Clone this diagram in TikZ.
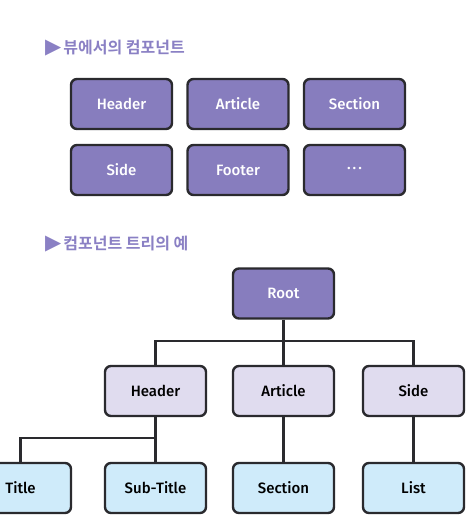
\documentclass[tikz,border=0pt]{standalone}
\usepackage{fontspec}
\usepackage{xcolor}
\setmainfont{Fira Sans}[UprightFont={* Medium}]
\newfontfamily\krfont{Noto Sans CJK KR}[BoldFont={* Bold}]
\newfontfamily\symfont{DejaVu Sans}
\usetikzlibrary{positioning, arrows.meta}

\definecolor{compdark}{HTML}{877DBE}
\definecolor{complight}{HTML}{E0DCEF}
\definecolor{compleaf}{HTML}{CFEBFA}
\definecolor{compline}{HTML}{2A2A2E}
\definecolor{headtext}{HTML}{8A80C4}

\begin{document}
\begin{tikzpicture}[
  x=1pt, y=-1pt,
  every node/.style={font=\fontsize{15}{18}\selectfont},
  box/.style={rectangle, rounded corners=6pt, draw=compline, line width=2.4pt,
              minimum width=101pt, minimum height=50pt, inner sep=2pt},
  darkbox/.style={box, fill=compdark, text=white},
  midbox/.style={box, fill=complight, text=black},
  leafbox/.style={box, fill=compleaf, text=black},
  heading/.style={anchor=west, text=headtext, inner sep=0pt,
                  font=\krfont\bfseries\fontsize{16}{18}\selectfont},
  link/.style={draw=compline, line width=2.8pt}
]
\clip (0,0) rectangle (471,524);
\useasboundingbox (0,0) rectangle (471,524);
% ── Components in the view ─────────────────────
\node[heading] (h1) at (45,48) {{\symfont\fontsize{21}{21}\selectfont ▶}\kern2pt 뷰에서의 컴포넌트};
\node[darkbox] (vheader)  at (121.5,104) {Header};
\node[darkbox] (varticle) at (238,104)   {Article};
\node[darkbox] (vsection) at (354.5,104) {Section};
\node[darkbox] (vside)    at (121.5,170) {Side};
\node[darkbox] (vfooter)  at (238,170)   {Footer};
\node[darkbox] (vmore)    at (354.5,170) {\raisebox{3pt}{.\kern2pt.\kern2pt.}};
% ── Component tree ─────────────────────────────
\node[heading] (h2) at (45,244) {{\symfont\fontsize{21}{21}\selectfont ▶}\kern2pt 컴포넌트 트리의 예};
\node[darkbox] (root) at (283.5,293.5) {Root};
\node[midbox] (header)  at (155.5,391) {Header};
\node[midbox] (article) at (283.5,391) {Article};
\node[midbox] (side)    at (413.5,391) {Side};
\node[leafbox] (title)    at (20.5,488)  {Title};
\node[leafbox] (subtitle) at (155.5,488) {Sub-Title};
\node[leafbox] (section)  at (283.5,488) {Section};
\node[leafbox] (list)     at (413.5,488) {List};
\coordinate (bus) at (283.5,341);
\coordinate (hbus) at (155.5,438);
\draw[link] (root.south) -- (article.north);
\draw[link] (header.north) |- (bus) -| (side.north);
\draw[link] (header.south) -- (subtitle.north);
\draw[link] (title.north) |- (hbus);
\draw[link] (article.south) -- (section.north);
\draw[link] (side.south) -- (list.north);
\end{tikzpicture}
\end{document}
